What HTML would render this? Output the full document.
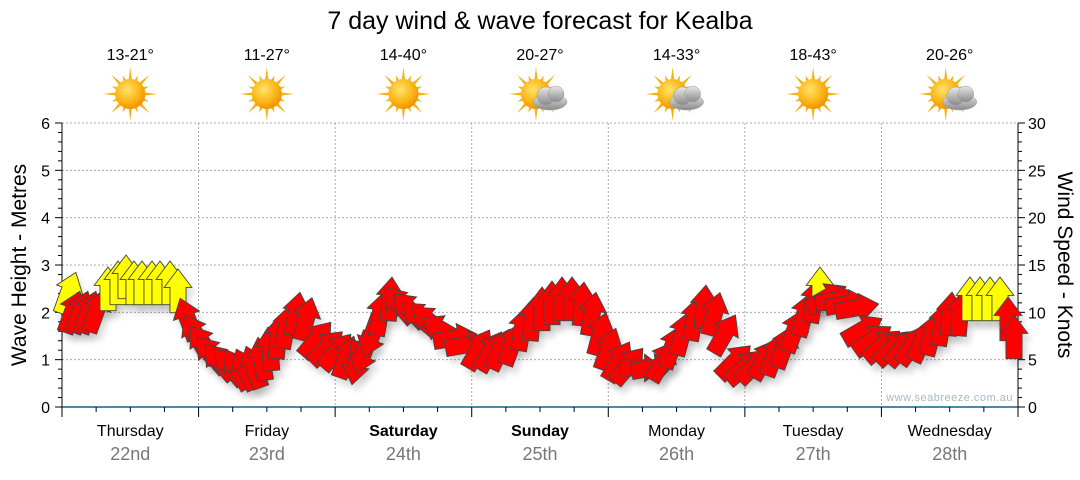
<!DOCTYPE html>
<html><head><meta charset="utf-8"><style>
body{margin:0;background:#fff;width:1080px;height:475px;overflow:hidden;font-family:"Liberation Sans","DejaVu Sans",sans-serif}
</style></head><body>
<svg id="s" width="1080" height="475" xmlns="http://www.w3.org/2000/svg" font-family="Liberation Sans, DejaVu Sans, sans-serif">
<defs>
<radialGradient id="sun" cx="0.4" cy="0.35" r="0.7"><stop offset="0" stop-color="#ffe36a"/><stop offset="0.6" stop-color="#fbb515"/><stop offset="1" stop-color="#f08a00"/></radialGradient>
<linearGradient id="cl" x1="0" y1="0" x2="0" y2="1"><stop offset="0" stop-color="#e8e8e8"/><stop offset="1" stop-color="#8a8a8a"/></linearGradient>
<filter id="sh" x="-50%" y="-50%" width="200%" height="200%"><feGaussianBlur stdDeviation="3"/></filter>
</defs>
<text x="540" y="29" font-size="25" text-anchor="middle" fill="#000">7 day wind &amp; wave forecast for Kealba</text>
<g id="g"></g>
</svg>
<script>
const g=document.getElementById('g');let h='';
const L=62,R=1018,T=123,B=407,dw=(R-L)/7;
for(let i=1;i<7;i++){const y=B-i*(B-T)/6;h+=`<line x1="${L}" y1="${y}" x2="${R}" y2="${y}" stroke="#aaa" stroke-dasharray="2,2"/>`}
for(let d=1;d<7;d++){const x=L+d*dw;h+=`<line x1="${x}" y1="${T}" x2="${x}" y2="${B}" stroke="#aaa" stroke-dasharray="2,2"/>`}
h+=`<line x1="${L}" y1="${T}" x2="${L}" y2="${B}" stroke="#000"/><line x1="${R}" y1="${T}" x2="${R}" y2="${B}" stroke="#000"/><line x1="${L}" y1="${B}" x2="${R}" y2="${B}" stroke="#1a5a8a" stroke-width="1.5"/>`;
for(let i=0;i<=30;i++){const y=B-i*(B-T)/30;const big=i%5==0;
h+=`<line x1="${L-(big?7:4)}" y1="${y}" x2="${L}" y2="${y}" stroke="#000"/><line x1="${R}" y1="${y}" x2="${R+(big?7:4)}" y2="${y}" stroke="#000"/>`;
if(big){h+=`<text x="${L-12}" y="${y+6}" font-size="16" text-anchor="end">${i/5}</text><text x="${R+10}" y="${y+6}" font-size="16">${i}</text>`}}
for(let i=0;i<=28;i++){const x=L+i*dw/4;h+=`<line x1="${x}" y1="${B}" x2="${x}" y2="${B+(i%4==0?10:5)}" stroke="#000"/>`}
h+=`<text transform="translate(26,265) rotate(-90)" font-size="21" text-anchor="middle">Wave Height - Metres</text>`;
h+=`<text transform="translate(1058,265) rotate(90)" font-size="21" text-anchor="middle">Wind Speed - Knots</text>`;
h+=`<text x="1013" y="401" font-size="11" fill="#a8b8c8" text-anchor="end" letter-spacing="0.5">www.seabreeze.com.au</text>`;
const days=["Thursday","Friday","Saturday","Sunday","Monday","Tuesday","Wednesday"],dt=["22nd","23rd","24th","25th","26th","27th","28th"],tp=["13-21°","11-27°","14-40°","20-27°","14-33°","18-43°","20-26°"],cl=[0,0,0,1,1,0,1];
for(let d=0;d<7;d++){const cx=L+(d+0.5)*dw;
h+=`<text x="${cx}" y="436" font-size="16" text-anchor="middle" ${d==2||d==3?'font-weight="bold"':''}>${days[d]}</text><text x="${cx}" y="460" font-size="18" fill="#777" text-anchor="middle">${dt[d]}</text><text x="${cx}" y="60" font-size="16" text-anchor="middle">${tp[d]}</text>`;
const sx=cx-(cl[d]?4:0),sy=94;let sp='';
for(let k=0;k<16;k++){const a=k*Math.PI/8,r=k%2?20:27;sp+=`<polygon points="${sx+Math.cos(a-0.12)*14},${sy+Math.sin(a-0.12)*14} ${sx+Math.cos(a)*r},${sy+Math.sin(a)*r} ${sx+Math.cos(a+0.12)*14},${sy+Math.sin(a+0.12)*14}" fill="#f2b21a"/>`}
h+=sp+`<circle cx="${sx}" cy="${sy}" r="15" fill="url(#sun)"/>`;
if(cl[d])h+=`<g fill="url(#cl)" stroke="#999" stroke-width="0.5"><ellipse cx="${cx+10}" cy="102" rx="17" ry="8"/><circle cx="${cx+6}" cy="96" r="9"/><circle cx="${cx+16}" cy="94" r="8"/></g>`;}
const A=[[68,294,20,1],[72,313,20],[80,313,20],[88,313,20],[96,312,20],[108,290,0,1],[118,284,0,1],[126,278,0,1],[134,284,0,1],[142,284,0,1],[152,284,0,1],[160,284,0,1],[170,284,0,1],[178,292,0,1],
[188,320,-20],[196,335,-30],[204,345,-35],[212,355,-40],[220,362,-40],[230,367,-40],[238,370,-30],[246,370,-25],[254,368,-20],[262,360,-10],[270,350,-5],[278,338,5],[286,328,10],[296,315,10],[306,320,15],[316,340,40],[326,348,45],[336,352,40],[346,358,20],[356,362,190],[364,352,200],
[372,335,200],[380,315,10],[390,300,5],[400,305,-40],[410,310,-45],[420,318,-50],[430,322,-50],[442,330,-60],[454,338,80],[466,345,80],[478,350,30],[490,352,30],[500,350,25],[512,345,20],
[522,330,10],[532,320,5],[542,310,0],[552,304,0],[562,300,0],[572,300,0],[582,305,5],[592,315,10],[600,335,15],[608,350,20],[618,362,30],[628,366,40],[640,368,90],[652,368,80],[662,362,30],[672,348,20],[682,335,15],[694,320,10],[704,308,5],[714,315,15],[724,335,30],
[734,362,45],[744,368,50],[754,366,45],[764,360,30],[774,356,20],[784,348,20],[794,332,20],[804,316,15],[814,302,10],[820,290,0,1],[826,298,60],[836,300,80],[846,304,80],[856,308,80],[862,330,60],[872,340,55],[882,346,50],[892,348,45],[902,348,40],[912,346,35],[922,342,25],[932,335,15],[942,325,10],[950,315,5],[960,315,5],[970,300,0,1],[980,300,0,1],[990,300,0,1],[1000,300,0,1],[1008,320,0],[1014,338,0]];
const poly=(x,y,a,c,extra)=>`<polygon transform="translate(${x},${y}) rotate(${a}) scale(1.15)" points="-7,18 7,18 7,-4 12,-4 0,-20 -12,-4 -7,-4" fill="${c}" stroke="#444" stroke-width="0.8" ${extra||''}/>`;
let shd='',ar='';
for(const [x,y,a,yl] of A){shd+=poly(x+4,y+7,a,'#000','opacity="0.12"');ar+=poly(x,y,a,yl?'#ffff00':'#ff0000');}
h+=`<g filter="url(#sh)">${shd}</g>`+ar;
g.innerHTML=h;
</script>
</body></html>
